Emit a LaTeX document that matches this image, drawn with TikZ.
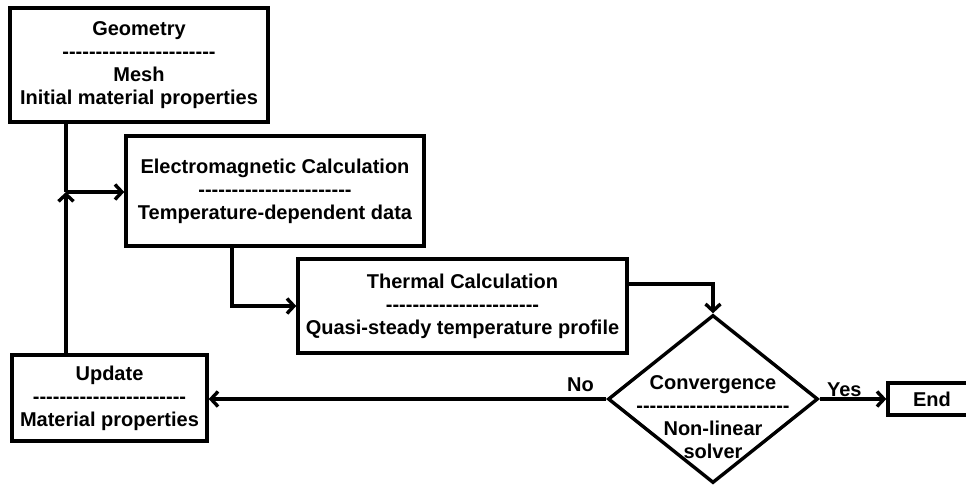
\documentclass[tikz,border=0pt]{standalone}
\usepackage{fontspec}
\setmainfont{Liberation Sans}[Ligatures=TeXOff]
\usetikzlibrary{shapes.geometric,arrows.meta,positioning,calc}
\newcommand{\sepline}{-----------------------}

\begin{document}
\begin{tikzpicture}[
        x=1pt, y=-1pt,
        >={Straight Barb[length=7pt,width=15pt]},
        line width=3.4pt,
        box/.style={rectangle, draw, inner sep=0pt, align=center,
            font=\fontsize{20}{23}\selectfont\bfseries},
        lbl/.style={align=center, font=\fontsize{20}{23}\selectfont\bfseries}
    ]
        \useasboundingbox (0,0) rectangle (966,485);

        \node[box, minimum width=258pt, minimum height=114pt] (geom) at (139,65) {Geometry\\\sepline\\Mesh\\Initial material properties};
        \node[box, minimum width=298pt, minimum height=110pt] (em) at (275,191) {Electromagnetic Calculation\\\sepline\\Temperature-dependent data};
        \node[box, minimum width=329pt, minimum height=94pt] (therm) at (462.5,306) {Thermal Calculation\\\sepline\\Quasi-steady temperature profile};
        \node[box, minimum width=195pt, minimum height=86pt] (upd) at (109.5,398) {Update\\\sepline\\Material properties};
        \node[diamond, draw, inner sep=0pt, minimum width=210pt, minimum height=168pt] (conv) at (713,399) {};
        \node[lbl] (convtxt) at ([yshift=-18pt]conv.center) {Convergence\\\sepline\\Non-linear\\solver};
        \node[box, minimum width=88pt, minimum height=32pt] (end) at (932,399) {End};

        \coordinate (join) at (66,192);
        \draw (geom.south -| join) -- (join);
        \draw[->] (join) -- (join -| em.west);
        \draw[->] (upd.north -| join) -- (join);
        \draw[->] ([xshift=-43pt]em.south) |- (therm.west);
        \draw[->] ([yshift=22pt]therm.east) -| (conv.north);
        \draw[->] (conv.west) -- (conv.west -| upd.east) node[lbl, pos=0.065, above, yshift=2pt] (no) {No};
        \draw[->] (conv.east) -- (end.west) node[lbl, pos=0.37, above, inner sep=1pt] (yes) {Yes};
    \end{tikzpicture}
\end{document}
